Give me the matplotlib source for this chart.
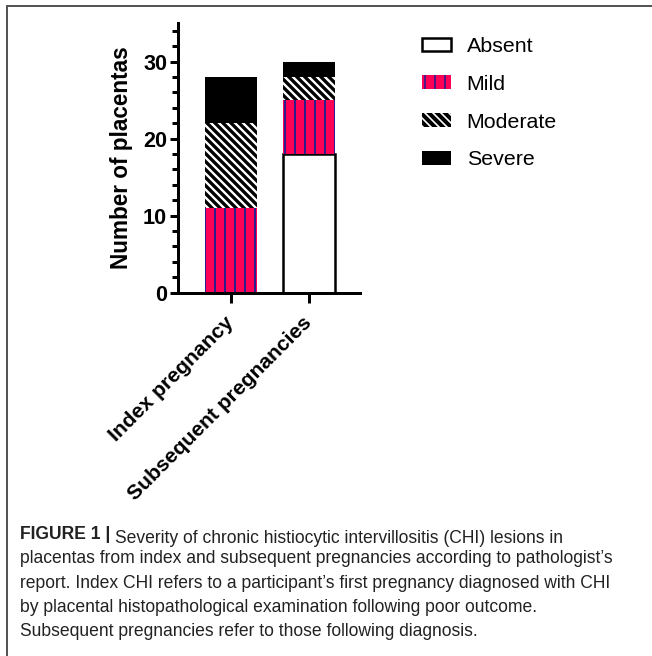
import numpy as np
import matplotlib.pyplot as plt
from matplotlib.ticker import MultipleLocator
from matplotlib.lines import Line2D
from matplotlib.transforms import ScaledTranslation

# Data
groups = ['Index pregnancy', 'Subsequent pregnancies']
severity = ['Absent', 'Mild', 'Moderate', 'Severe']
absent = [0, 18]
mild = [11, 7]
moderate = [11, 3]
severe = [6, 2]

caption_head = 'FIGURE 1 |'
caption_lines = [
    'Severity of chronic histiocytic intervillositis (CHI) lesions in',
    'placentas from index and subsequent pregnancies according to pathologist\u2019s',
    'report. Index CHI refers to a participant\u2019s first pregnancy diagnosed with CHI',
    'by placental histopathological examination following poor outcome.',
    'Subsequent pregnancies refer to those following diagnosis.',
]

# bar styles: (facecolor, edgecolor / hatch colour, edge width, hatch, hatch width)
styles = {
    'Absent': ('white', 'black', 1.5, None, 1.0),
    'Mild': ('#FF0057', '#2E1B8C', 0, '||', 1.2),
    'Moderate': ('black', 'white', 0, '\\' * 5, 1.4),
    'Severe': ('black', 'black', 0, None, 1.0),
}

plt.rcParams['font.family'] = ['Liberation Sans', 'DejaVu Sans']

W, H, dpi = 652, 656, 120
fig = plt.figure(figsize=(W / dpi, H / dpi), dpi=dpi)
ax = fig.add_axes([178 / W, 1 - 292.7 / H, 182 / W, 269.7 / H])

x = np.arange(len(groups))
bottom = np.zeros(len(groups))
for name, vals in zip(severity, [absent, mild, moderate, severe]):
    fc, ec, lw, hatch, hlw = styles[name]
    with plt.rc_context({'hatch.linewidth': hlw}):
        bars = ax.bar(x, vals, width=0.66, bottom=bottom, color=fc,
                      edgecolor=ec, linewidth=lw, hatch=hatch, label=name)
    for b in bars:
        if hasattr(b, 'set_hatch_linewidth'):
            b.set_hatch_linewidth(hlw)
    bottom += np.array(vals)

ax.set_xlim(-0.68, 1.65)
ax.set_ylim(0, 35)
ax.yaxis.set_major_locator(MultipleLocator(10))
ax.yaxis.set_minor_locator(MultipleLocator(2))
ax.set_xticks(x)
ax.set_xticklabels(groups, rotation=45, ha='right', va='center',
                   rotation_mode='anchor', fontsize=12.7, fontweight='bold')
shift = ScaledTranslation(6 / dpi, -4 / dpi, fig.dpi_scale_trans)
for lbl in ax.get_xticklabels():
    lbl.set_transform(lbl.get_transform() + shift)
for lbl in ax.get_yticklabels():
    lbl.set_fontweight('bold')

for side in ['top', 'right']:
    ax.spines[side].set_visible(False)
for side in ['left', 'bottom']:
    ax.spines[side].set_linewidth(1.8)
ax.tick_params(axis='y', which='major', length=5, width=1.8, labelsize=13, pad=1.5)
ax.tick_params(axis='y', which='minor', length=3.5, width=1.8)
ax.tick_params(axis='x', which='major', length=6, width=1.8, pad=10)
ax.set_ylabel('Number of placentas', fontsize=13.5, fontweight='bold', labelpad=6)

fig.legend(loc='upper left', bbox_to_anchor=(421.7 / W, 1 - 37 / H), frameon=False,
           fontsize=12.8, handlelength=1.36, handleheight=0.61, handletextpad=0.75,
           labelspacing=0.88, borderpad=0, borderaxespad=0)

# caption
cap_kw = dict(fontsize=10.5, color='#222222', va='baseline')
head = fig.text(20 / W, 1 - 539 / H, caption_head, fontweight='bold', **cap_kw)
ax.annotate(caption_lines[0], xy=(1, 0), xycoords=head, xytext=(3, 0),
            textcoords='offset points', annotation_clip=False, **cap_kw)
for i, line in enumerate(caption_lines[1:], start=1):
    fig.text(20 / W, 1 - (539 + 24.3 * i) / H, line, **cap_kw)

# frame around the figure panel
fig.add_artist(Line2D([7 / W, 1], [1 - 6 / H] * 2, transform=fig.transFigure,
                      color='#555555', lw=1.2))
fig.add_artist(Line2D([7 / W] * 2, [0, 1 - 6 / H], transform=fig.transFigure,
                      color='#555555', lw=1.2))

fig.savefig('out.png', dpi=dpi)
